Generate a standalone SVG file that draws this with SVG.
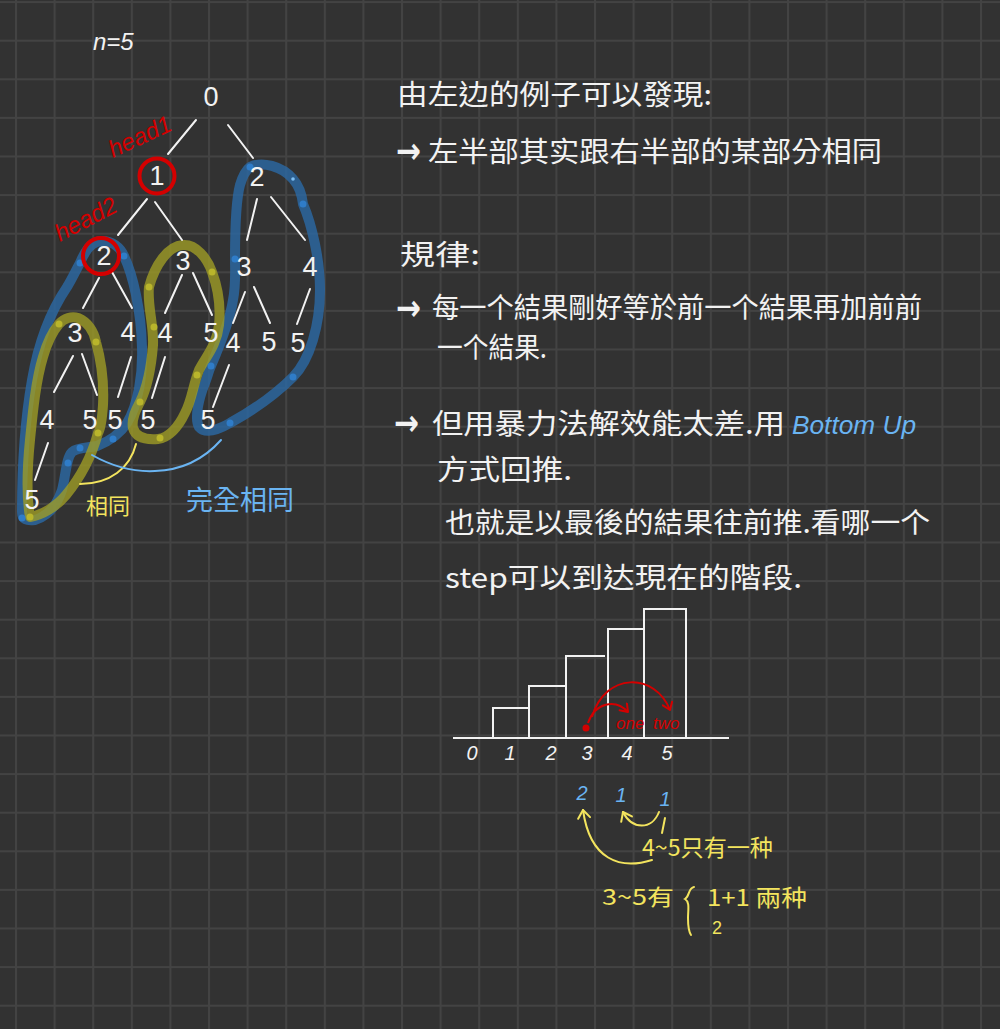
<svg xmlns="http://www.w3.org/2000/svg" width="1000" height="1029" viewBox="0 0 1000 1029">
<defs>
<pattern id="grid" x="15" y="1.1" width="38.6" height="38.6" patternUnits="userSpaceOnUse">
<path d="M1,0 V38.6 M0,1 H38.6" stroke="#434343" stroke-width="2" fill="none"/>
</pattern>
<marker id="arR" markerWidth="12" markerHeight="12" refX="9" refY="6" orient="auto" markerUnits="userSpaceOnUse">
<path d="M2,1 L9,6 L2,11" fill="none" stroke="#d40000" stroke-width="2" stroke-linecap="round" stroke-linejoin="round"/>
</marker>
<marker id="arY" markerWidth="14" markerHeight="14" refX="10" refY="7" orient="auto" markerUnits="userSpaceOnUse">
<path d="M2,1 L10,7 L2,13" fill="none" stroke="#f3e45e" stroke-width="2" stroke-linecap="round" stroke-linejoin="round"/>
</marker>
</defs>
<style>
.num{font-family:"Liberation Sans","DejaVu Sans",sans-serif;font-size:27px;fill:#f2f2f2;text-anchor:middle}
.edge{stroke:#f2f2f2;stroke-width:2;stroke-linecap:round;fill:none}
.cjk{font-family:"Noto Sans CJK TC","Noto Sans CJK SC",sans-serif;font-size:28px;fill:#f2f2f2}
.arrow{font-family:"DejaVu Sans",sans-serif;font-weight:bold;font-size:36px;fill:#f2f2f2}
.bb{fill:none;stroke:#2a6aa8;stroke-opacity:0.78;stroke-width:10;stroke-linejoin:round}
.yb{fill:none;stroke:#a09d25;stroke-opacity:0.78;stroke-width:10;stroke-linejoin:round}
.bd{fill:#2f7cc8}
.yd{fill:#b9b52b}
.red{fill:none;stroke:#d40000;stroke-width:4}
.redt{font-family:"Liberation Sans",sans-serif;font-style:italic;fill:#d40000}
.yel{fill:#f3e45e}
.yels{fill:none;stroke:#f3e45e;stroke-width:2;stroke-linecap:round}
.blu{fill:#6ab4f2}
.bar{fill:none;stroke:#f2f2f2;stroke-width:2}
.ax{font-family:"Liberation Sans",sans-serif;font-style:italic;font-size:20px;fill:#f2f2f2;text-anchor:middle}
</style>
<rect width="1000" height="1029" fill="#323232"/>
<rect width="1000" height="1029" fill="url(#grid)"/>

<g id="highlights">
<path class="bb" d="M80,263 C86,248 93,241 102,241 C112,241 120,247 124,256 C133,275 141,310 142,347 C143,375 138,405 127,423 C120,434 110,441 97,446 C88,448 78,447 72,452 C66,458 66,475 62,490 C57,505 48,516 35,520 C27,521 22,520 22,512 C22,470 25,420 32,380 C38,345 48,315 67,287 C72,279 76,270 80,263 Z"/>
<path class="bb" d="M250,167 C262,161 282,166 293,179 C300,187 302,195 303,204 C312,225 320,260 320,290 C320,325 310,360 293,377 C275,395 250,412 230,423 C218,430 205,434 199,427 C194,418 199,398 205,383 C208,375 209,370 211,366 C220,345 230,320 233,300 C236,285 235,270 235,259 C235,235 236,200 240,185 C243,175 246,170 250,167 Z"/>
<path class="yb" d="M59,324 C64,318 72,316 78,318 C88,322 94,332 96,342 C101,360 104,385 103,405 C102,420 100,430 98,433 C92,455 80,478 66,495 C56,507 42,515 30,517 C27,500 27,470 30,440 C33,410 36,380 43,357 C47,343 53,331 59,324 Z"/>
<path class="yb" d="M149,287 C155,265 168,246 183,245 C196,244 207,258 212,272 C218,288 221,305 219,325 C217,345 205,358 199,370 C193,385 192,400 185,413 C178,428 168,438 158,439 C146,440 136,438 133,428 C131,418 137,408 140,402 C146,390 151,370 153,345 C154,325 147,305 149,287 Z"/>
<circle class="bd" cx="80" cy="263" r="3.5"/><circle class="bd" cx="124" cy="256" r="3.5"/><circle class="bd" cx="113" cy="439" r="3.5"/><circle class="bd" cx="80" cy="448" r="3.5"/><circle class="bd" cx="68" cy="463" r="3.5"/><circle class="bd" cx="22" cy="518" r="3.5"/>
<circle class="bd" cx="250" cy="167" r="3.5"/><circle class="bd" cx="303" cy="204" r="3.5"/><circle class="bd" cx="235" cy="259" r="3.5"/><circle class="bd" cx="211" cy="366" r="3.5"/><circle class="bd" cx="293" cy="377" r="3.5"/><circle class="bd" cx="230" cy="423" r="3.5"/>
<circle cx="293" cy="179" r="1.8" fill="#7ec0f5"/>
<circle class="yd" cx="59" cy="324" r="3.5"/><circle class="yd" cx="96" cy="342" r="3.5"/><circle class="yd" cx="98" cy="433" r="3.5"/><circle class="yd" cx="30" cy="517" r="3.5"/>
<circle class="yd" cx="149" cy="287" r="3.5"/><circle class="yd" cx="212" cy="272" r="3.5"/><circle class="yd" cx="154" cy="327" r="3.5"/><circle class="yd" cx="197" cy="375" r="3.5"/><circle class="yd" cx="160" cy="438" r="3.5"/><circle class="yd" cx="140" cy="402" r="3.5"/>
</g>

<g id="connectors">
<line class="edge" x1="196" y1="120" x2="168" y2="154"/>
<line class="edge" x1="228" y1="125" x2="253" y2="158"/>
<line class="edge" x1="147" y1="199" x2="118" y2="235"/>
<line class="edge" x1="155" y1="202" x2="182" y2="240"/>
<line class="edge" x1="257" y1="199" x2="247" y2="240"/>
<line class="edge" x1="271" y1="197" x2="305" y2="240"/>
<line class="edge" x1="99" y1="278" x2="83" y2="308"/>
<line class="edge" x1="112" y1="272" x2="132" y2="308"/>
<line class="edge" x1="182" y1="275" x2="165" y2="313"/>
<line class="edge" x1="193" y1="273" x2="212" y2="315"/>
<line class="edge" x1="245" y1="292" x2="233" y2="323"/>
<line class="edge" x1="254" y1="287" x2="270" y2="323"/>
<line class="edge" x1="310" y1="289" x2="297" y2="324"/>
<line class="edge" x1="73" y1="356" x2="54" y2="392"/>
<line class="edge" x1="82" y1="354" x2="97" y2="395"/>
<line class="edge" x1="131" y1="357" x2="118" y2="397"/>
<line class="edge" x1="165" y1="357" x2="152" y2="398"/>
<line class="edge" x1="229" y1="365" x2="213" y2="407"/>
<line class="edge" x1="48" y1="443" x2="35" y2="480"/>
<path d="M136,444 C130,468 110,484 80,484" fill="none" stroke="#f3e45e" stroke-width="2" stroke-linecap="round"/>
<path d="M92,455 C115,468 135,472 155,471 C185,470 205,458 221,440" fill="none" stroke="#6ab4f2" stroke-width="2" stroke-linecap="round"/>
</g>

<text x="93" y="50" font-family="Liberation Sans,sans-serif" font-style="italic" font-size="24" fill="#f2f2f2">n=5</text>

<g id="n0"><text class="num" x="211" y="106">0</text></g>
<g id="n1"><circle class="red" cx="157" cy="176" r="17.5"/><text class="num" x="157" y="185">1</text></g>
<g id="n2"><text class="num" x="257" y="186">2</text></g>
<g id="n3"><circle class="red" cx="101" cy="256" r="18"/><text class="num" x="104" y="265">2</text></g>
<g id="n4"><text class="num" x="183" y="270">3</text></g>
<g id="n5"><text class="num" x="244" y="276">3</text></g>
<g id="n6"><text class="num" x="310" y="276">4</text></g>
<g id="n7"><text class="num" x="75" y="342">3</text></g>
<g id="n8"><text class="num" x="128" y="341">4</text></g>
<g id="n9"><text class="num" x="165" y="342">4</text></g>
<g id="n10"><text class="num" x="211" y="342">5</text></g>
<g id="n11"><text class="num" x="233" y="352">4</text></g>
<g id="n12"><text class="num" x="269" y="351">5</text></g>
<g id="n13"><text class="num" x="298" y="352">5</text></g>
<g id="n14"><text class="num" x="47" y="429">4</text></g>
<g id="n15"><text class="num" x="90" y="429">5</text></g>
<g id="n16"><text class="num" x="115" y="429">5</text></g>
<g id="n17"><text class="num" x="148" y="429">5</text></g>
<g id="n18"><text class="num" x="208" y="429">5</text></g>
<g id="n19"><text class="num" x="32" y="509">5</text></g>

<text class="redt" x="113" y="158" font-size="24" transform="rotate(-25 113 158)">head1</text>
<text class="redt" x="60" y="242" font-size="24" transform="rotate(-28 60 242)">head2</text>

<text x="86" y="514" font-family="Noto Sans CJK TC,Noto Sans CJK SC,sans-serif" font-size="22" class="yel">相同</text>
<text x="186" y="510" font-family="Noto Sans CJK TC,Noto Sans CJK SC,sans-serif" font-size="27" class="blu">完全相同</text>

<g id="notes">
<text class="cjk" x="397" y="105" textLength="315" lengthAdjust="spacingAndGlyphs">由左边的例子可以發現:</text>
<text class="arrow" x="396" y="163" textLength="25" lengthAdjust="spacingAndGlyphs">→</text>
<text class="cjk" x="428" y="162" font-size="29" textLength="454" lengthAdjust="spacingAndGlyphs">左半部其实跟右半部的某部分相同</text>
<text class="cjk" x="400" y="265" textLength="80" lengthAdjust="spacingAndGlyphs">規律:</text>
<text class="arrow" x="396" y="320" textLength="25" lengthAdjust="spacingAndGlyphs">→</text>
<text class="cjk" x="432" y="318" textLength="490" lengthAdjust="spacingAndGlyphs">每一个結果剛好等於前一个結果再加前前</text>
<text class="cjk" x="437" y="358" textLength="110" lengthAdjust="spacingAndGlyphs">一个結果.</text>
<text class="arrow" x="394" y="435" textLength="25" lengthAdjust="spacingAndGlyphs">→</text>
<text class="cjk" x="432" y="434" textLength="353" lengthAdjust="spacingAndGlyphs">但用暴力法解效能太差.用</text>
<text x="792" y="434" font-family="Liberation Sans,sans-serif" font-style="italic" font-size="26" class="blu" textLength="124" lengthAdjust="spacingAndGlyphs">Bottom Up</text>
<text class="cjk" x="437" y="480" textLength="135" lengthAdjust="spacingAndGlyphs">方式回推.</text>
<text class="cjk" x="445" y="533" textLength="485" lengthAdjust="spacingAndGlyphs">也就是以最後的結果往前推.看哪一个</text>
<text class="cjk" x="445" y="588" textLength="357" lengthAdjust="spacingAndGlyphs">step可以到达現在的階段.</text>
</g>

<g id="stairs">
<line class="bar" x1="453" y1="738" x2="729" y2="738"/>
<path class="bar" d="M493,738 V708 H529 V738 M529,708 V686 H566 V738 M566,686 V656 H605 M608,738 V629 H644 V738 M644,629 V609 H686 V738"/>
<text class="ax" x="472" y="760">0</text>
<text class="ax" x="510" y="760">1</text>
<text class="ax" x="551" y="760">2</text>
<text class="ax" x="587" y="760">3</text>
<text class="ax" x="627" y="760">4</text>
<text class="ax" x="667" y="760">5</text>
<circle cx="586" cy="728" r="3.5" fill="#d40000"/>
<path d="M588,723 C595,703 615,698 628,712" fill="none" stroke="#d40000" stroke-width="2" marker-end="url(#arR)"/>
<path d="M592,717 C605,672 655,672 670,710" fill="none" stroke="#d40000" stroke-width="2" marker-end="url(#arR)"/>
<text class="redt" x="616" y="729" font-size="17">one</text>
<text class="redt" x="653" y="729" font-size="17">two</text>
</g>

<g id="counts">
<text x="582" y="800" font-family="Liberation Sans,sans-serif" font-style="italic" font-size="20" class="blu" text-anchor="middle">2</text>
<text x="621" y="802" font-family="Liberation Sans,sans-serif" font-style="italic" font-size="20" class="blu" text-anchor="middle">1</text>
<text x="665" y="806" font-family="Liberation Sans,sans-serif" font-style="italic" font-size="20" class="blu" text-anchor="middle">1</text>
<line class="yels" x1="665" y1="818" x2="662" y2="833"/>
<path class="yels" d="M659,812 C652,830 632,830 623,812" marker-end="url(#arY)"/>
<path class="yels" d="M652,860 C620,870 590,860 583,810" marker-end="url(#arY)"/>
<text x="642" y="856" font-family="Noto Sans CJK TC,Noto Sans CJK SC,sans-serif" font-size="23" class="yel" textLength="131" lengthAdjust="spacingAndGlyphs">4~5只有一种</text>
<text x="602" y="905" font-family="Noto Sans CJK TC,Noto Sans CJK SC,sans-serif" font-size="22" class="yel" textLength="72" lengthAdjust="spacingAndGlyphs">3~5有</text>
<path class="yels" d="M694,887 C688,888 690,896 685,899 C690,902 688,910 688,918 C688,926 689,932 691,935"/>
<text x="707" y="906" font-family="Noto Sans CJK TC,Noto Sans CJK SC,sans-serif" font-size="23" class="yel" textLength="100" lengthAdjust="spacingAndGlyphs">1+1 兩种</text>
<text x="712" y="934" font-family="Liberation Sans,sans-serif" font-size="18" class="yel">2</text>
</g>
</svg>
